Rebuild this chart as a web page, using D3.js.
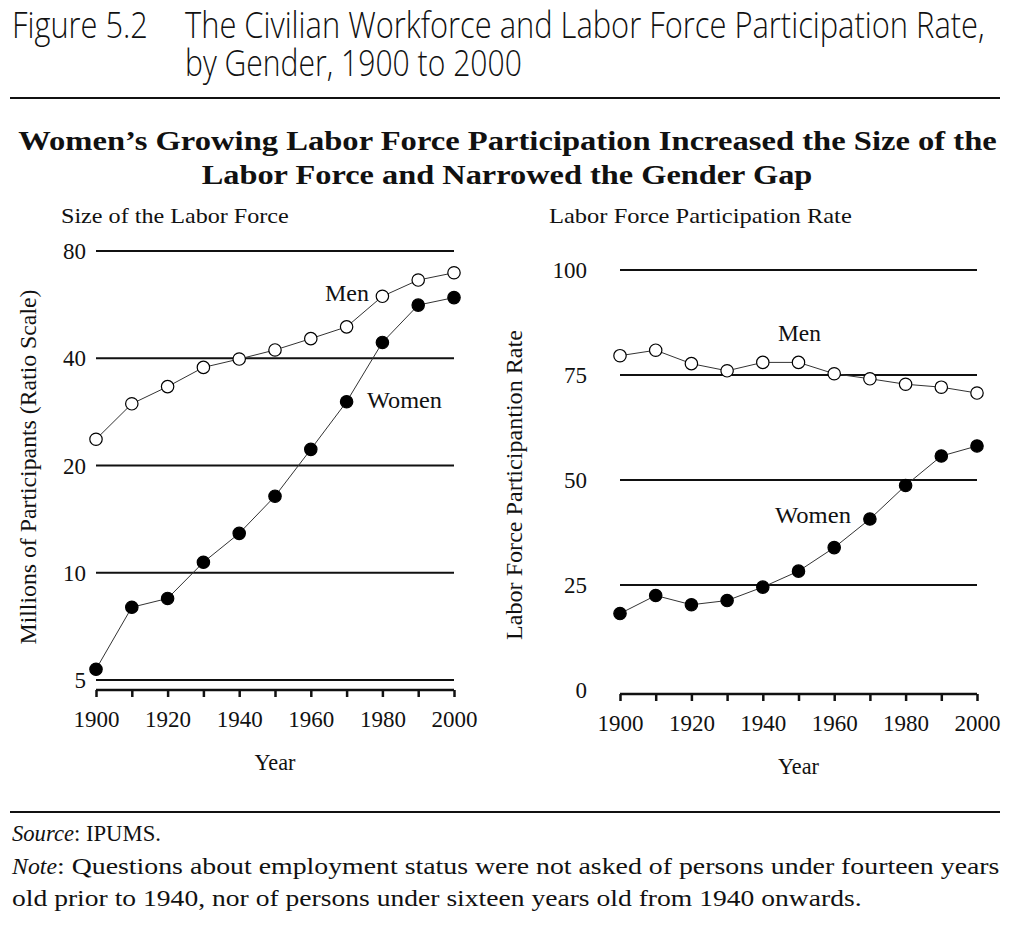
<!DOCTYPE html>
<html>
<head>
<meta charset="utf-8">
<script src="https://cdn.jsdelivr.net/npm/d3@7"></script>
<style>
  body { margin: 0; background: #fff; }
  svg { display: block; }
  .serif { font-family: "Liberation Serif", "DejaVu Serif", serif; fill: #111; }
  .sans { font-family: "Open Sans", "Noto Sans", "DejaVu Sans", sans-serif; font-weight: 300; fill: #111; }
</style>
</head>
<body>
<div id="box"></div>
<script>
'use strict';

var years = [1900, 1910, 1920, 1930, 1940, 1950, 1960, 1970, 1980, 1990, 2000];
var yearTicks = [1900, 1920, 1940, 1960, 1980, 2000];

// left panel: millions of participants (ratio scale)
var menSize = [23.7, 29.8, 33.3, 37.7, 39.8, 42.2, 45.4, 49.0, 59.7, 66.3, 69.5];
var womenSize = [5.36, 8.0, 8.47, 10.7, 12.9, 16.4, 22.2, 30.2, 44.3, 56.4, 59.2];
var sizeTicks = [5, 10, 20, 40, 80];

// right panel: participation rate
var menRate = [79.6, 80.9, 77.7, 76.0, 78.0, 78.0, 75.3, 74.1, 72.8, 72.1, 70.7];
var womenRate = [18.2, 22.5, 20.3, 21.3, 24.5, 28.3, 33.9, 40.7, 48.7, 55.7, 58.1];
var rateTicks = [0, 25, 50, 75, 100];

var width = 1025, height = 925;

var svg = d3.select("#box")
  .append("svg")
    .attr("width", width)
    .attr("height", height);

// text at (x, y), styled first, then scaled horizontally to a target width
function addText(parent, cls, x, y, size, str, w, o) {
  o = o || {};
  var t = parent.append("text").attr("class", cls)
    .style("font-size", size + "px")
    .style("font-weight", o.bold ? "bold" : null)
    .style("font-style", o.italic ? "italic" : null)
    .style("text-anchor", o.anchor || "start")
    .text(str);
  var sx = w ? w / t.node().getComputedTextLength() : 1;
  t.attr("transform", "translate(" + x + "," + y + ")" +
    (o.rotate ? " rotate(" + o.rotate + ")" : "") + " scale(" + sx + ",1)");
  return t;
}

// header
addText(svg, "sans", 12, 38, 36, "Figure 5.2", 136);
addText(svg, "sans", 185, 38, 36, "The Civilian Workforce and Labor Force Participation Rate,", 800);
addText(svg, "sans", 185, 76, 36, "by Gender, 1900 to 2000", 337);

svg.append("line")
  .attr("x1", 10).attr("x2", 1000)
  .attr("y1", 98).attr("y2", 98)
  .attr("stroke", "#111").attr("stroke-width", 2);

addText(svg, "serif", 507.5, 150, 27,
  "Women\u2019s Growing Labor Force Participation Increased the Size of the", 979,
  {anchor: "middle", bold: true});
addText(svg, "serif", 507, 184, 27,
  "Labor Force and Narrowed the Gender Gap", 611, {anchor: "middle", bold: true});

// footer
svg.append("line")
  .attr("x1", 10).attr("x2", 1000)
  .attr("y1", 812).attr("y2", 812)
  .attr("stroke", "#111").attr("stroke-width", 2);

addText(svg, "serif", 12, 841, 23, "Source", 62, {italic: true});
addText(svg, "serif", 74, 841, 23, ": IPUMS.", 87);
addText(svg, "serif", 12, 874, 23, "Note", 45, {italic: true});
addText(svg, "serif", 57, 874, 23,
  ": Questions about employment status were not asked of persons under fourteen years", 943);
addText(svg, "serif", 12, 906, 23,
  "old prior to 1940, nor of persons under sixteen years old from 1940 onwards.", 850);

// one panel: gridlines, x axis, two series
function drawPanel(opt) {
  var g = svg.append("g");
  var x = d3.scaleLinear().domain([1900, 2000]).range([opt.left, opt.right]);
  var y = opt.y;

  addText(g, "serif", opt.titleX, 223, 21, opt.title, opt.titleW);

  // horizontal rules
  g.selectAll(".grid")
    .data(opt.ticks.filter(function(t) { return opt.skipGrid.indexOf(t) < 0; }))
    .enter().append("line")
      .attr("x1", opt.left).attr("x2", opt.right)
      .attr("y1", function(d) { return y(d); })
      .attr("y2", function(d) { return y(d); })
      .attr("stroke", "#111").attr("stroke-width", 2);

  // y tick labels
  g.selectAll(".ylab")
    .data(opt.ticks)
    .enter().append("text").attr("class", "serif")
      .attr("x", opt.left - opt.labGap)
      .attr("y", function(d) { return y(d); })
      .attr("dy", "0.35em")
      .style("text-anchor", "end")
      .style("font-size", "23px")
      .text(function(d) { return d; });

  // x axis
  var xAxis = g.append("g")
    .attr("transform", "translate(0," + opt.axisY + ")")
    .call(d3.axisBottom(x).tickValues(years).tickSize(7).tickFormat(function(d) {
      return yearTicks.indexOf(d) >= 0 ? d : "";
    }));
  xAxis.select(".domain").attr("stroke", "#111").attr("stroke-width", 2.5)
    .attr("d", "M" + opt.left + ",0H" + opt.right);
  xAxis.selectAll(".tick line").attr("stroke", "#111").attr("stroke-width", 2.5);
  xAxis.selectAll(".tick text")
    .attr("class", "serif")
    .attr("dy", "0")
    .attr("y", 37)
    .style("font-size", "23px");

  addText(g, "serif", (opt.left + opt.right) / 2, opt.axisY + 80, 23, "Year", 41, {anchor: "middle"});

  addText(g, "serif", opt.ylabX, opt.ylabY, 23, opt.ylab, opt.ylabW, {anchor: "middle", rotate: -90});

  var line = d3.line()
    .x(function(d) { return x(d[0]); })
    .y(function(d) { return y(d[1]); });

  [{v: opt.men, fill: "#fff"}, {v: opt.women, fill: "#000"}].forEach(function(s) {
    var pts = years.map(function(yr, i) { return [yr, s.v[i]]; });
    g.append("path")
      .datum(pts)
      .attr("fill", "none")
      .attr("stroke", "#333")
      .attr("stroke-width", 1)
      .attr("d", line);
    g.selectAll(null)
      .data(pts)
      .enter().append("circle")
        .attr("cx", function(d) { return x(d[0]); })
        .attr("cy", function(d) { return y(d[1]); })
        .attr("r", 6.2)
        .attr("fill", s.fill)
        .attr("stroke", "#000")
        .attr("stroke-width", 1.2);
  });

  opt.labels.forEach(function(l) {
    addText(g, "serif", l.x, l.y, 23, l.text, l.w);
  });
}

drawPanel({
  left: 96, right: 454, axisY: 690, labGap: 10,
  y: d3.scaleLog().domain([5, 80]).range([680, 251]),
  ticks: sizeTicks, skipGrid: [],
  men: menSize, women: womenSize,
  title: "Size of the Labor Force", titleX: 61, titleW: 228,
  ylab: "Millions of Participants (Ratio Scale)", ylabX: 36, ylabY: 467, ylabW: 355,
  labels: [{text: "Men", x: 325, y: 301, w: 44}, {text: "Women", x: 367, y: 408, w: 75}]
});

drawPanel({
  left: 620, right: 977, axisY: 694, labGap: 33,
  y: d3.scaleLinear().domain([0, 100]).range([690, 270]),
  ticks: rateTicks, skipGrid: [0],
  men: menRate, women: womenRate,
  title: "Labor Force Participation Rate", titleX: 549, titleW: 303,
  ylab: "Labor Force Participantion Rate", ylabX: 522, ylabY: 485, ylabW: 310,
  labels: [{text: "Men", x: 778, y: 341, w: 43}, {text: "Women", x: 775, y: 523, w: 76}]
});
</script>
</body>
</html>
